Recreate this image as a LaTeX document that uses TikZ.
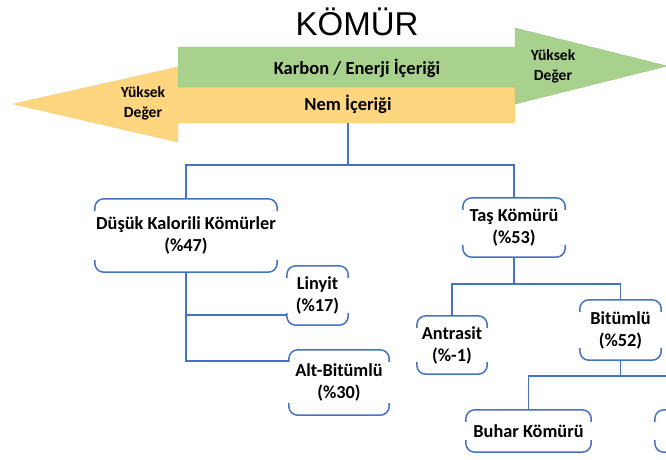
\documentclass[tikz,border=0pt]{standalone}
\usepackage{fontspec}
\setmainfont{Carlito}
\newfontfamily\titlefont{Liberation Sans}
\definecolor{kblue}{RGB}{68,114,196}
\definecolor{kgreen}{RGB}{169,209,142}
\definecolor{kgreenline}{RGB}{150,196,120}
\definecolor{korange}{RGB}{255,214,128}
\definecolor{korangeline}{RGB}{248,203,110}

\begin{document}
\begin{tikzpicture}[x=1pt,y=-1pt,
  tline/.style={draw=kblue,line width=1.5pt},
  bracket/.style={tline,rounded corners=9pt},
  kbox/.style={font=\fontsize{18.3}{22}\selectfont\bfseries,align=center,inner sep=0pt},
  arrowtext/.style={font=\fontsize{18.5}{20}\selectfont\bfseries,align=center},
  sidetext/.style={font=\fontsize{15.5}{20}\selectfont\bfseries,align=center,inner sep=0pt}]
  \useasboundingbox (0,0) rectangle (666,459);
  \clip (0,0) rectangle (666,459);

  % title and the two arrows
  \node[font=\titlefont\fontsize{33}{40}\selectfont] (komur) at (357,22) {KÖMÜR};
  \draw[fill=korange,draw=korangeline] (515,87) -- (515,123) -- (178,123) -- (178,142) -- (13,104) -- (178,67) -- (178,87) -- cycle;
  \draw[fill=kgreen,draw=kgreenline] (178,47) -- (515,47) -- (515,28) -- (667,66) -- (515,104) -- (515,87) -- (178,87) -- cycle;
  \node[arrowtext] (karbon) at (357,68) {Karbon / Enerji İçeriği};
  \node[arrowtext] (nem) at (348,104) {Nem İçeriği};
  \node[sidetext] (yuksekR) at (553,66) {Yüksek\\Değer};
  \node[sidetext] (yuksekL) at (143,103) {Yüksek\\Değer};
  \coordinate (nembot) at (348,123);

  % boxes
  \node[kbox,minimum width=182pt,minimum height=73pt] (dusuk) at (186,235.5) {Düşük Kalorili Kömürler\\(\%47)};
  \node[kbox,minimum width=102pt,minimum height=59pt] (tas) at (514,227.5) {Taş Kömürü\\(\%53)};
  \node[kbox,minimum width=61pt,minimum height=59pt] (linyit) at (317.5,295.5) {Linyit\\(\%17)};
  \node[kbox,minimum width=100pt,minimum height=65pt] (altbit) at (339,382.5) {Alt-Bitümlü\\(\%30)};
  \node[kbox,minimum width=70pt,minimum height=58pt] (antrasit) at (452,345) {Antrasit\\(\%-1)};
  \node[kbox,minimum width=81pt,minimum height=60pt] (bitumlu) at (620.5,330) {Bitümlü\\(\%52)};
  \node[kbox,minimum width=125pt,minimum height=42pt] (buhar) at (528.5,431) {Buhar Kömürü};
  \node[kbox,minimum width=125pt,minimum height=42pt] (kok) at (717.5,431) {};
  \foreach \n in {dusuk,tas,linyit,altbit,antrasit,bitumlu,buhar,kok} {
    \draw[bracket] ([yshift=-12pt]\n.north west) -- (\n.north west) -- (\n.north east) -- ([yshift=-12pt]\n.north east);
    \draw[bracket] ([yshift=12pt]\n.south west) -- (\n.south west) -- (\n.south east) -- ([yshift=12pt]\n.south east);
  }

  % connectors
  \draw[tline] (nembot) -- ++(0,42) coordinate (j1);
  \draw[tline] (j1) -| (dusuk.north);
  \draw[tline] (j1) -| (tas.north);
  \draw[tline] (dusuk.south) |- ([yshift=-11pt]altbit.north west);
  \draw[tline] (dusuk.south) |- ([yshift=10pt]linyit.south west);
  \draw[tline] (tas.south) -- ++(0,27) coordinate (j2);
  \draw[tline] (j2) -| (antrasit.north);
  \draw[tline] (j2) -| (bitumlu.north);
  \draw[tline] (bitumlu.south) -- ++(0,16) coordinate (j3);
  \draw[tline] (j3) -| (buhar.north);
  \draw[tline] (j3) -| (kok.north);
\end{tikzpicture}
\end{document}
